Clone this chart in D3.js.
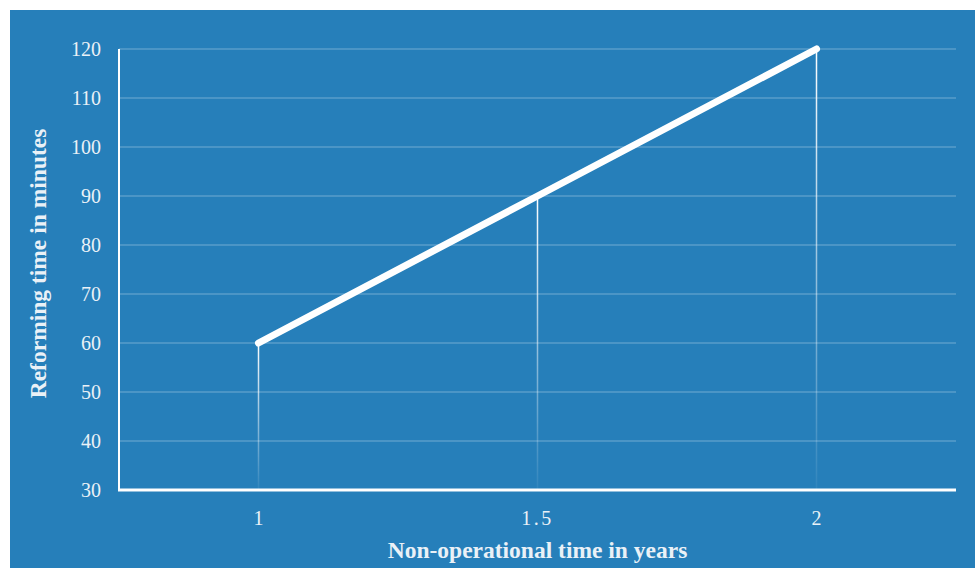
<!DOCTYPE html>
<html lang="en">
<head>
<meta charset="utf-8">
<title>Reforming time vs non-operational time</title>
<script src="https://cdn.jsdelivr.net/npm/d3@7"></script>
<style>
  body { margin: 0; background: #fff; }
  text { font-family: "Liberation Serif", "DejaVu Serif", serif; }
</style>
</head>
<body>
<div id="chart"></div>
<script>
// data
var years = ["1", "1.5", "2"];
var minutes = [60, 90, 120];
var yTicks = [30, 40, 50, 60, 70, 80, 90, 100, 110, 120];

var width = 975, height = 568;
var margin = {top: 49, right: 19, bottom: 78, left: 119};

var svg = d3.select("#chart").append("svg")
  .attr("width", width)
  .attr("height", height);

// blue panel
svg.append("rect")
  .attr("x", 10).attr("y", 10)
  .attr("width", width - 10).attr("height", height - 10)
  .attr("fill", "#267fba");

var x = d3.scalePoint()
  .domain(years)
  .range([margin.left, width - margin.right])
  .padding(0.5);

var y = d3.scaleLinear()
  .domain([30, 120])
  .range([height - margin.bottom, margin.top]);

// gridlines
svg.append("g")
  .selectAll("line")
  .data(yTicks.slice(1))
  .enter().append("line")
    .attr("x1", margin.left)
    .attr("x2", width - margin.right)
    .attr("y1", function(d) { return y(d); })
    .attr("y2", function(d) { return y(d); })
    .attr("stroke", "#ffffff")
    .attr("stroke-opacity", 0.35)
    .attr("stroke-width", 1.2);

// fading drop lines
var defs = svg.append("defs");
var grad = defs.append("linearGradient")
  .attr("id", "fade")
  .attr("x1", 0).attr("y1", 0).attr("x2", 0).attr("y2", 1);
grad.append("stop").attr("offset", "0%").attr("stop-color", "#fff").attr("stop-opacity", 1);
grad.append("stop").attr("offset", "100%").attr("stop-color", "#fff").attr("stop-opacity", 0.05);

svg.append("g")
  .selectAll("rect")
  .data(years)
  .enter().append("rect")
    .attr("x", function(d) { return x(d) - 0.75; })
    .attr("width", 1.5)
    .attr("y", function(d, i) { return y(minutes[i]); })
    .attr("height", function(d, i) { return y(30) - y(minutes[i]); })
    .attr("fill", "url(#fade)");

// axes lines
svg.append("line")
  .attr("x1", margin.left).attr("x2", margin.left)
  .attr("y1", margin.top).attr("y2", y(30))
  .attr("stroke", "#fff").attr("stroke-width", 2);

svg.append("line")
  .attr("x1", margin.left - 1).attr("x2", width - margin.right)
  .attr("y1", y(30)).attr("y2", y(30))
  .attr("stroke", "#fff").attr("stroke-width", 3);

// main line
var line = d3.line()
  .x(function(d) { return x(d); })
  .y(function(d, i) { return y(minutes[i]); });

svg.append("path")
  .datum(years)
  .attr("d", line)
  .attr("fill", "none")
  .attr("stroke", "#fff")
  .attr("stroke-width", 7)
  .attr("stroke-linecap", "round");

// tick labels
svg.append("g")
  .selectAll("text")
  .data(yTicks)
  .enter().append("text")
    .attr("x", 101)
    .attr("y", function(d) { return y(d); })
    .attr("dy", "0.35em")
    .attr("text-anchor", "end")
    .attr("fill", "#eaf1f7")
    .attr("font-size", 20)
    .text(function(d) { return d; });

svg.append("g")
  .selectAll("text")
  .data(years)
  .enter().append("text")
    .attr("x", function(d) { return x(d); })
    .attr("y", 518)
    .attr("dy", "0.35em")
    .attr("text-anchor", "middle")
    .attr("fill", "#eaf1f7")
    .attr("font-size", 20)
    .attr("letter-spacing", function(d) { return d == "1.5" ? 2.5 : 0; })
    .text(function(d) { return d; });

// axis titles
svg.append("text")
  .attr("x", x("1.5"))
  .attr("y", 550)
  .attr("dy", "0.35em")
  .attr("text-anchor", "middle")
  .attr("fill", "#eaf1f7")
  .attr("font-size", 23.5)
  .attr("font-weight", "bold")
  .text("Non-operational time in years");

svg.append("text")
  .attr("transform", "translate(38," + ((margin.top + y(30)) / 2 - 6) + ") rotate(-90)")
  .attr("dy", "0.35em")
  .attr("text-anchor", "middle")
  .attr("fill", "#eaf1f7")
  .attr("font-size", 23.5)
  .attr("font-weight", "bold")
  .text("Reforming time in minutes");
</script>
</body>
</html>
